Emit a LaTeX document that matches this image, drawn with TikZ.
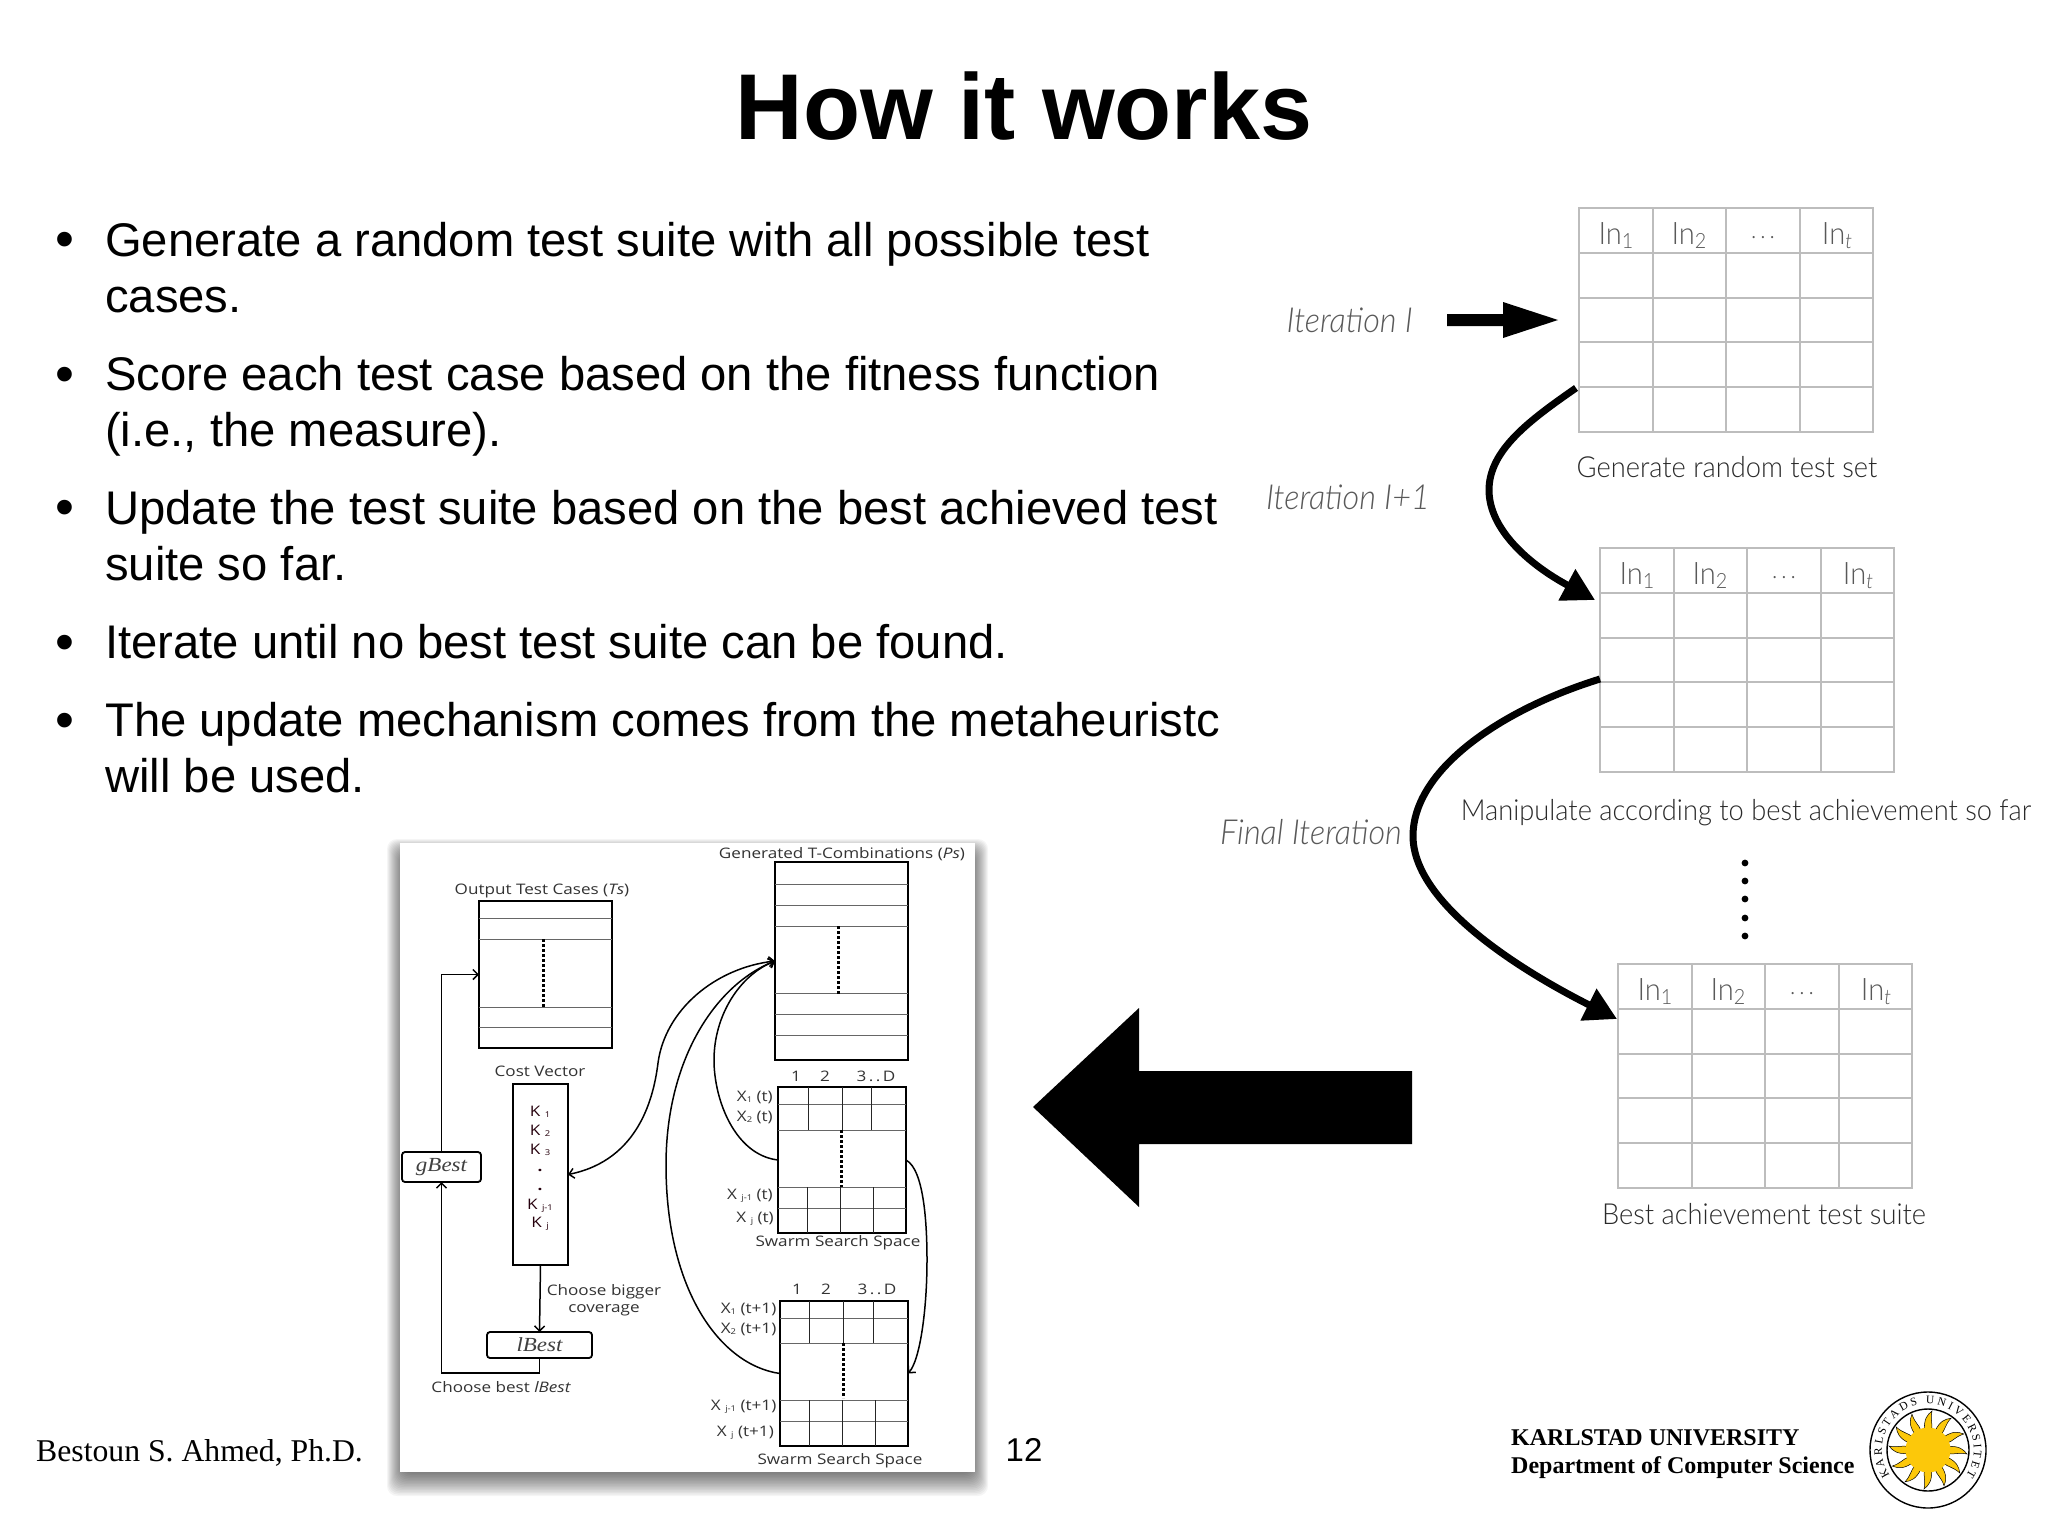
\documentclass[tikz,border=0pt]{standalone}
\usepackage{fontspec}
\usetikzlibrary{arrows.meta,decorations.text}
\setmainfont{Liberation Sans}
\newfontfamily\gill[ItalicFont={Lato Light Italic},FakeStretch=0.94]{Lato Light}
\newfontfamily\emb[FakeStretch=1.18]{Open Sans}
\newfontfamily\tms{Liberation Serif}
\newfontfamily\tmsw[FakeStretch=1.15]{Liberation Serif}
\definecolor{gridgray}{HTML}{BDBDBD}
\definecolor{sunc}{HTML}{FCC80A}
\definecolor{gilltxt}{HTML}{2A2A2A}
\newcommand\fsz[1]{\fontsize{#1}{#1}\selectfont}
\newcommand\insub[1]{In\raisebox{-4pt}{\fsz{21}#1}}
\newcommand\xs[1]{\raisebox{-1.5pt}{\fsz{8}#1}}
\newcommand\inttable[2]{%
\begin{scope}[shift={(#2)}]
\node[tablebox,anchor=north west] (#1) at (0,0) {};
\foreach \cx in {74,147,221} \draw[gridline] (\cx,0) -- (\cx,224);
\foreach \cy in {45,90,134,179} \draw[gridline] (0,\cy) -- (294,\cy);
\node[hdr] (#1a) at (37,28) {\insub{1}};
\node[hdr] (#1b) at (110,28) {\insub{2}};
\node[hdr] (#1c) at (184,30) {\fsz{24}.\,.\,.};
\node[hdr] (#1d) at (258,28) {In\raisebox{-4pt}{\fsz{21}\itshape t}};
\end{scope}}
\tikzset{
 txt/.style={anchor=base west,inner sep=0,font=\fsz{47.2}},
 bul/.style={anchor=center,inner sep=0,font=\fsz{54}},
 tablebox/.style={draw=gridgray,line width=2,minimum width=294,minimum height=224,inner sep=0,outer sep=0},
 gridline/.style={draw=gridgray,line width=2},
 hdr/.style={inner sep=0,font=\gill\fsz{31},text=gray!70!black},
 captxt/.style={inner sep=0,font=\gill\fsz{29},text=gilltxt},
 iter/.style={inner sep=0,font=\gill\itshape\fsz{34.5},text=gray!70!black},
 bigcurve/.style={line width=7,-{Triangle[length=32,width=34]}},
 ebox/.style={draw=black,line width=1.8,inner sep=0,outer sep=0,fill=white},
 rbox/.style={draw=black,line width=1.8,inner sep=0,outer sep=0,rounded corners=3,fill=white,text=black!75,font=\tmsw\itshape\fsz{20}},
 elab/.style={inner sep=0,font=\emb\fsz{14.5},text=black!80},
 rowlab/.style={inner sep=0,anchor=east,font=\emb\fsz{14.5},text=black!80},
 klab/.style={inner sep=0,font=\emb\fsz{14.5},text=black!80!purple},
 hair/.style={draw=black!60,line width=1},
 vhair/.style={draw=black!85,line width=.9},
 edot/.style={line width=3,dash pattern=on 2.6 off 2.4},
 conn/.style={draw=black,line width=1.5},
 conntip/.style={-{Straight Barb[length=5,width=10]}},
}
\begin{document}
\begin{tikzpicture}[x=1pt,y=-1pt]
\useasboundingbox (0,0) rectangle (2048,1536);
\fill[white] (0,0) rectangle (2048,1536);
% title
\node[inner sep=0,anchor=base,font=\bfseries\fsz{93.5}] (title) at (1024,140) {How it works};
% bullets
\node[bul] (b1) at (65,245) {•};
\node[txt] (l1) at (105,256) {Generate a random test suite with all possible test};
\node[txt] (l2) at (105,312) {cases.};
\node[bul] (b2) at (65,380) {•};
\node[txt] (l3) at (105,390) {Score each test case based on the fitness function};
\node[txt] (l4) at (105,446) {(i.e., the measure).};
\node[bul] (b3) at (65,513) {•};
\node[txt] (l5) at (105,524) {Update the test suite based on the best achieved test};
\node[txt] (l6) at (105,580) {suite so far.};
\node[bul] (b4) at (65,648) {•};
\node[txt] (l7) at (105,658) {Iterate until no best test suite can be found.};
\node[bul] (b5) at (65,726) {•};
\node[txt] (l8) at (105,736) {The update mechanism comes from the metaheuristc};
\node[txt] (l9) at (105,792) {will be used.};
% tables
\inttable{T1}{1579,208}
\inttable{T2}{1600,548}
\inttable{T3}{1618,964}
\node[captxt] (c1) at (1727,467) {Generate random test set};
\node[captxt] (c2) at (1746,813) {Manipulate according to best achievement so far};
\node[captxt] (c3) at (1764,1214) {Best achievement test suite};
\node[iter,anchor=east] (i1) at (1413,320) {Iteration I};
\node[iter,anchor=east] (i2) at (1430,497) {Iteration I+1};
\node[iter,anchor=east] (i3) at (1402,832) {Final Iteration};
% block arrows
\fill (1447,314) -- (1503,314) -- (1503,302) -- (1558,320) -- (1503,338) -- (1503,326) -- (1447,326) -- cycle;
\fill (1033,1107) -- (1139,1008) -- (1139,1071) -- (1412,1071) -- (1412,1144) -- (1139,1144) -- (1139,1207) -- cycle;
% curved arrows
\coordinate (s1) at (1576,388);
\coordinate (e1) at (1595,600);
\coordinate (s2) at (1600,679);
\coordinate (e2) at (1617,1019);
\draw[bigcurve] (s1) .. controls (1530,420) and (1489,450) .. (1489,490) .. controls (1489,530) and (1530,565) .. (e1);
\draw[bigcurve] (s2) .. controls (1500,710) and (1413,770) .. (1413,836) .. controls (1413,900) and (1510,965) .. (e2);
% dots
\foreach \dy in {863,881,899,918,936} \fill (1745,\dy) circle (3.4);
% embedded picture
\foreach \g in {0,...,15} \fill[black,opacity=.04,rounded corners=10] (400-13+\g,843-4+\g) rectangle (975+13-\g,1472+24-\g*1.5);
\fill[white] (400,843) rectangle (975,1472);
\node[ebox,minimum width=133,minimum height=147] (Out) at (545.5,974.5) {};
\node[ebox,minimum width=133,minimum height=198] (Ps) at (841.5,961) {};
\node[ebox,minimum width=55,minimum height=181] (Cost) at (540.5,1174.5) {};
\node[ebox,minimum width=128,minimum height=146] (S1) at (842,1160) {};
\node[ebox,minimum width=128,minimum height=145] (S2) at (844,1373.5) {};
\node[rbox,minimum width=79,minimum height=30] (gB) at (441.5,1167) {gBest};
\node[rbox,minimum width=105,minimum height=26] (lB) at (539.5,1345) {lBest};
\foreach \yy in {918,939,1007,1027} \draw[hair] (479,\yy) -- (612,\yy);
\foreach \yy in {884,905,926,993,1014,1035} \draw[hair] (775,\yy) -- (908,\yy);
\draw[edot] (543,939) -- (543,1008);
\draw[edot] (838,926) -- (838,995);
\foreach \yy in {1104,1130,1187,1208} \draw[hair] (778,\yy) -- (906,\yy);
\foreach \xx in {808,842,871} \draw[vhair] (\xx,1087) -- (\xx,1130);
\foreach \xx in {807.5,840,873} \draw[vhair] (\xx,1187) -- (\xx,1233);
\draw[edot] (841,1130) -- (841,1187);
\foreach \yy in {1318,1343,1400,1421} \draw[hair] (780,\yy) -- (908,\yy);
\foreach \xx in {809,843,873} \draw[vhair] (\xx,1301) -- (\xx,1343);
\foreach \xx in {809,842,875} \draw[vhair] (\xx,1400) -- (\xx,1446);
\draw[edot] (843,1343) -- (843,1398);
% embedded labels
\node[elab] (eo) at (542,891) {Output Test Cases ({\itshape Ts})};
\node[elab] (ep) at (842,854) {Generated T-Combinations ({\itshape Ps})};
\node[elab] (ec) at (540,1071) {Cost Vector};
\node[klab] (k1) at (540,1112) {K \xs{1}};
\node[klab] (k2) at (540,1131) {K \xs{2}};
\node[klab] (k3) at (540,1150) {K \xs{3}};
\node[klab,font=\emb\bfseries\fsz{14.5}] (kd1) at (540,1170) {.};
\node[klab,font=\emb\bfseries\fsz{14.5}] (kd2) at (540,1189) {.};
\node[klab] (k4) at (540,1206) {K \xs{j-1}};
\node[klab] (k5) at (540,1224) {K \xs{j}};
\node[elab,align=center,font=\emb\fsz{14.5}] (eb) at (604,1300) {Choose bigger\\[3pt]coverage};
\node[elab] (ebb) at (501,1387) {Choose best {\itshape lBest}};
\node[elab] (h1a) at (796,1076) {1};
\node[elab] (h1b) at (825,1076) {2};
\node[elab] (h1c) at (876,1076) {3\,.\,.\,D};
\node[elab] (h2a) at (797,1289) {1};
\node[elab] (h2b) at (826,1289) {2};
\node[elab] (h2c) at (877,1289) {3\,.\,.\,D};
\node[rowlab] (r1) at (773,1097) {X\xs{1} (t)};
\node[rowlab] (r2) at (773,1117) {X\xs{2} (t)};
\node[rowlab] (r3) at (773,1196) {X \xs{j-1} (t)};
\node[rowlab] (r4) at (774,1219) {X \xs{j} (t)};
\node[rowlab] (r5) at (776.5,1309) {X\xs{1} (t+1)};
\node[rowlab] (r6) at (776.5,1329) {X\xs{2} (t+1)};
\node[rowlab] (r7) at (776.5,1407) {X \xs{j-1} (t+1)};
\node[rowlab] (r8) at (774,1433) {X \xs{j} (t+1)};
\node[elab] (s1l) at (838,1243) {Swarm Search Space};
\node[elab] (s2l) at (840,1461) {Swarm Search Space};
% embedded connectors
\draw[conn,conntip] (gB.north) |- (Out.west);
\draw[conn,conntip] (Cost.south) -- (lB.north);
\draw[conn,conntip] (lB.south) -- ++(0,15) -| (gB.south);
\draw[conn,{Straight Barb[length=5,width=10]}-{Straight Barb[length=5,width=10]}] (Ps.west) .. controls (715,968) and (665,1010) .. (658,1063) .. controls (654,1095) and (640,1160) .. (Cost.east);
\draw[conn,conntip] (S2.west) .. controls (720,1365) and (666,1290) .. (666,1165) .. controls (666,1060) and (715,985) .. (Ps.west);
\draw[conn,conntip] (S1.west) .. controls (735,1155) and (714,1100) .. (714,1060) .. controls (714,1015) and (740,975) .. (Ps.west);
\draw[conn,conntip] (S1.east) .. controls (925,1170) and (927,1230) .. (927,1260) .. controls (927,1310) and (920,1360) .. (S2.east);
% footer
\node[anchor=base west,inner sep=0,font=\tms\fsz{31.7}] (auth) at (36,1461) {Bestoun S. Ahmed, Ph.D.};
\node[inner sep=0,font=\fsz{33}] (pg) at (1024,1450) {12};
\node[anchor=base west,inner sep=0,font=\tms\bfseries\fsz{24}] (k) at (1511,1445) {KARLSTAD UNIVERSITY};
\node[anchor=base west,inner sep=0,font=\tms\bfseries\fsz{24}] (d) at (1511,1473) {Department of Computer Science};
% logo
\begin{scope}[shift={(1928,1450)},x=1pt,y=1pt]
\draw[line width=1.4,fill=white] (0,0) circle (58);
\draw[line width=1.4] (0,0) circle (41);
\foreach \a in {0,30,...,330}
  \fill[sunc,draw=black,line width=.5,rotate=\a] (20,-3.5) .. controls (26,-5) and (30,-2) .. (39,-4) .. controls (35,1) and (31,4) .. (21,3.5) -- cycle;
\fill[sunc] (0,0) circle (22.5);
\path[decorate,decoration={text along path,text align=fit to path,text={|\tms\fsz{11.5}|KARLSTADS UNIVERSITET}}] (214:46) arc[start angle=214,end angle=-34,radius=46pt];
\end{scope}
\end{tikzpicture}
\end{document}
